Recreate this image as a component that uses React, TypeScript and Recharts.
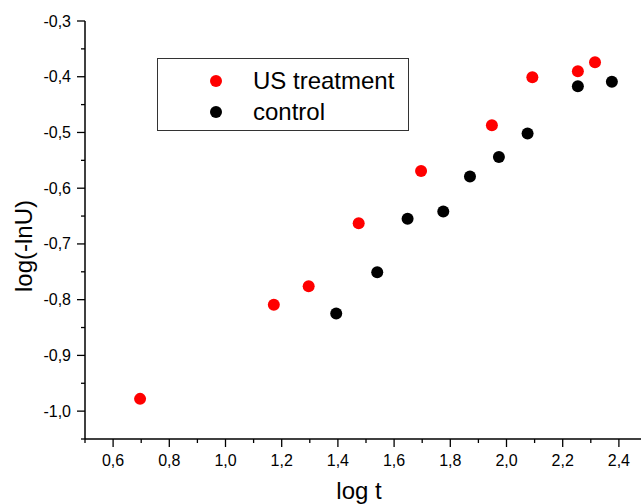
import { ScatterChart, Scatter, XAxis, YAxis } from "recharts";

// US treatment: log t vs log(-lnU)
const usT = [0.696, 1.172, 1.296, 1.474, 1.696, 1.948, 2.092, 2.254, 2.315];
const usY = [-0.978, -0.809, -0.776, -0.663, -0.569, -0.487, -0.401, -0.39, -0.374];

// control
const ctrlT = [1.394, 1.54, 1.648, 1.775, 1.87, 1.973, 2.075, 2.254, 2.375];
const ctrlY = [-0.825, -0.751, -0.655, -0.642, -0.579, -0.544, -0.502, -0.417, -0.409];

const xTicks = [0.5, 0.6, 0.7, 0.8, 0.9, 1.0, 1.1, 1.2, 1.3, 1.4, 1.5, 1.6, 1.7, 1.8, 1.9, 2.0, 2.1, 2.2, 2.3, 2.4, 2.5];
const yTicks = [-1.05, -1.0, -0.95, -0.9, -0.85, -0.8, -0.75, -0.7, -0.65, -0.6, -0.55, -0.5, -0.45, -0.4, -0.35, -0.3];

const series = [
  { name: "US treatment", color: "#ff0000", data: usT.map((t, i) => ({ x: t, y: usY[i] })) },
  { name: "control", color: "#000000", data: ctrlT.map((t, i) => ({ x: t, y: ctrlY[i] })) },
];

const FONT = "'Liberation Sans', Arial, sans-serif";

// x: labels every 0.2, y: labels every 0.1
const onStep = (v: number, per: number) => Math.abs(Math.round(v * per) - v * per) < 1e-6;
const fmt = (v: number) => v.toFixed(1).replace(".", ",");

const XTick = (props: any) => {
  const { x, y, payload } = props;
  const major = onStep(payload.value, 5);
  return (
    <g>
      <line x1={x} x2={x} y1={y} y2={y + (major ? 8 : 4)} stroke="#000" strokeWidth={1.3} />
      {major && (
        <text x={x} y={y + 27} textAnchor="middle" fontSize={16} fontFamily={FONT} fill="#000">
          {fmt(payload.value)}
        </text>
      )}
    </g>
  );
};

const YTick = (props: any) => {
  const { x, y, payload } = props;
  const major = onStep(payload.value, 10);
  return (
    <g>
      <line x1={x} x2={x - (major ? 8 : 4)} y1={y} y2={y} stroke="#000" strokeWidth={1.3} />
      {major && (
        <text x={x - 14} y={y} textAnchor="end" dominantBaseline="central" fontSize={16} fontFamily={FONT} fill="#000">
          {fmt(payload.value)}
        </text>
      )}
    </g>
  );
};

const YTitle = (props: any) => {
  const { viewBox } = props;
  const cx = viewBox.x + 23;
  const cy = viewBox.y + viewBox.height / 2 + 16;
  return (
    <text
      x={cx}
      y={cy}
      transform={`rotate(-90 ${cx} ${cy})`}
      textAnchor="middle"
      dominantBaseline="central"
      fontSize={24}
      fontFamily={FONT}
      fill="#000"
    >
      log(-lnU)
    </text>
  );
};

const Dot = (color: string) => (props: any) => <circle cx={props.cx} cy={props.cy} r={6} fill={color} />;

// legend box drawn over the plot area
const LegendBox = () => (
  <div
    style={{
      position: "absolute",
      left: 157,
      top: 58,
      width: 252,
      height: 73,
      border: "1px solid #333",
      background: "#fff",
      fontFamily: FONT,
      fontSize: 24,
      color: "#000",
      boxSizing: "border-box",
      paddingTop: 6,
    }}
  >
    {series.map((s) => (
      <div key={s.name} style={{ display: "flex", alignItems: "center", height: 31 }}>
        <span
          style={{
            display: "inline-block",
            width: 12,
            height: 12,
            borderRadius: 6,
            background: s.color,
            marginLeft: 52,
            marginRight: 31,
          }}
        />
        <span>{s.name}</span>
      </div>
    ))}
  </div>
);

export default function App() {
  return (
    <div style={{ position: "fixed", left: 0, top: 0, width: 641, height: 504, overflow: "hidden", background: "#fff" }}>
      <ScatterChart width={647} height={504} margin={{ top: 21, right: 0, bottom: 0, left: 0 }}>
        <XAxis
          type="number"
          dataKey="x"
          domain={[0.5, 2.5]}
          ticks={xTicks}
          interval={0}
          height={65}
          tickSize={0}
          tickMargin={0}
          tick={<XTick />}
          axisLine={{ stroke: "#000", strokeWidth: 1.5 }}
          allowDataOverflow
          label={{
            value: "log t",
            position: "insideBottom",
            offset: 5,
            dx: -7,
            fontSize: 24,
            fontFamily: FONT,
            fill: "#000",
          }}
        />
        <YAxis
          type="number"
          dataKey="y"
          domain={[-1.05, -0.3]}
          ticks={yTicks}
          interval={0}
          width={85}
          tickSize={0}
          tickMargin={0}
          tick={<YTick />}
          axisLine={{ stroke: "#000", strokeWidth: 1.5 }}
          allowDataOverflow
          label={YTitle}
        />
        {series.map((s) => (
          <Scatter
            key={s.name}
            name={s.name}
            data={s.data}
            fill={s.color}
            shape={Dot(s.color)}
            isAnimationActive={false}
          />
        ))}
      </ScatterChart>
      <LegendBox />
    </div>
  );
}
